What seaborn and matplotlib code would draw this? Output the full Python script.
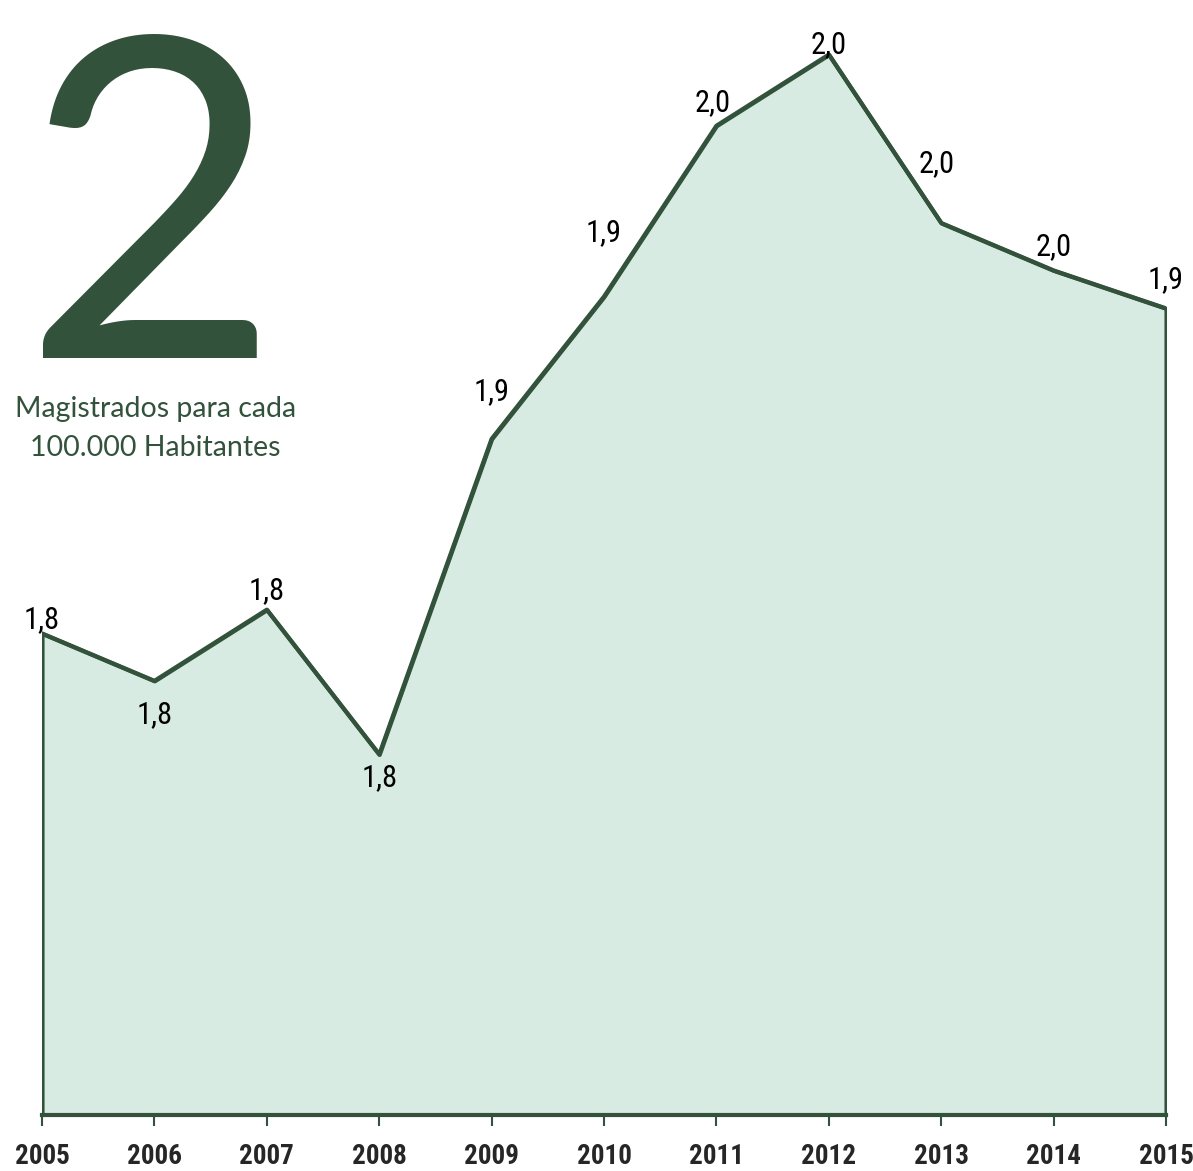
import matplotlib
matplotlib.use("Agg")
import matplotlib.pyplot as plt
from matplotlib import font_manager
import seaborn as sns
import pandas as pd

# ------------------------ data ------------------------
years = [2005, 2006, 2007, 2008, 2009, 2010, 2011, 2012, 2013, 2014, 2015]
magistrados = [1.803, 1.783, 1.813, 1.752, 1.885, 1.945, 2.017, 2.047, 1.976, 1.956, 1.940]
value_labels = ["1,8", "1,8", "1,8", "1,8", "1,9", "1,9", "2,0", "2,0", "2,0", "2,0", "1,9"]
headline = "2"
subtitle = "Magistrados para cada\n100.000 Habitantes"

# label offsets in points (dx, dy)
label_offsets = [(0, 10), (0, -24), (0, 14), (0, -17), (0, 34), (0, 46),
                 (-3, 17), (0, 7), (-3, 43), (0, 17), (0, 21)]

df = pd.DataFrame({"year": years, "value": magistrados})

green = "#33523b"
fill = "#d8ebe3"

# look for a condensed / narrow face, otherwise Roboto
names = sorted({f.name for f in font_manager.fontManager.ttflist})
narrow_name = None
for pref in ["Liberation Sans Narrow", "Roboto Condensed", "Open Sans Condensed", "Noto Sans Condensed"]:
    if pref in names:
        narrow_name = pref
        break
if narrow_name is None:
    for n in names:
        if "Narrow" in n or "Condensed" in n:
            narrow_name = n
            break
if narrow_name is None:
    narrow_name = "Roboto"
narrow = [narrow_name, "DejaVu Sans"]
lab_size = 22 if narrow_name != "Roboto" else 17
tick_size = 19.5 if narrow_name != "Roboto" else 16

sns.set_style("white")

fig = plt.figure(figsize=(11.93, 11.71), dpi=100)
ax = fig.add_axes([0.0352, 0.0478, 0.9422, 0.9522])

# area + outline
ax.fill_between(df["year"], 1.6, df["value"], facecolor=fill, edgecolor=green, linewidth=3, zorder=1)
sns.lineplot(data=df, x="year", y="value", color=green, linewidth=3, ax=ax, zorder=2)

for (x, y, lab, off) in zip(years, magistrados, value_labels, label_offsets):
    ax.annotate(lab, (x, y), xytext=off, textcoords="offset points",
                ha="center", va="center", fontsize=lab_size, family=narrow, color="black")

ax.set_xlim(2005, 2015)
ax.set_ylim(1.6, 2.07)
ax.set_xticks(years)
ax.set_xticklabels([str(y) for y in years], fontsize=tick_size, fontweight="bold", family=narrow)
ax.set_yticks([])
ax.set_xlabel("")
ax.set_ylabel("")
ax.tick_params(axis="x", bottom=True, direction="out", length=8, width=1.5, color=green, pad=12)
for s in ["top", "right", "left"]:
    ax.spines[s].set_visible(False)
ax.spines["bottom"].set_color(green)
ax.spines["bottom"].set_linewidth(3)
ax.patch.set_alpha(0)

# big headline number
fig.text(0.127, 0.694, headline, fontsize=322, color=green, family="Lato",
         ha="center", va="baseline")
fig.text(0.13, 0.634, subtitle, fontsize=20.5, color=green, family="Lato",
         ha="center", va="center", linespacing=1.6)

fig.savefig("out.png", dpi=100)
